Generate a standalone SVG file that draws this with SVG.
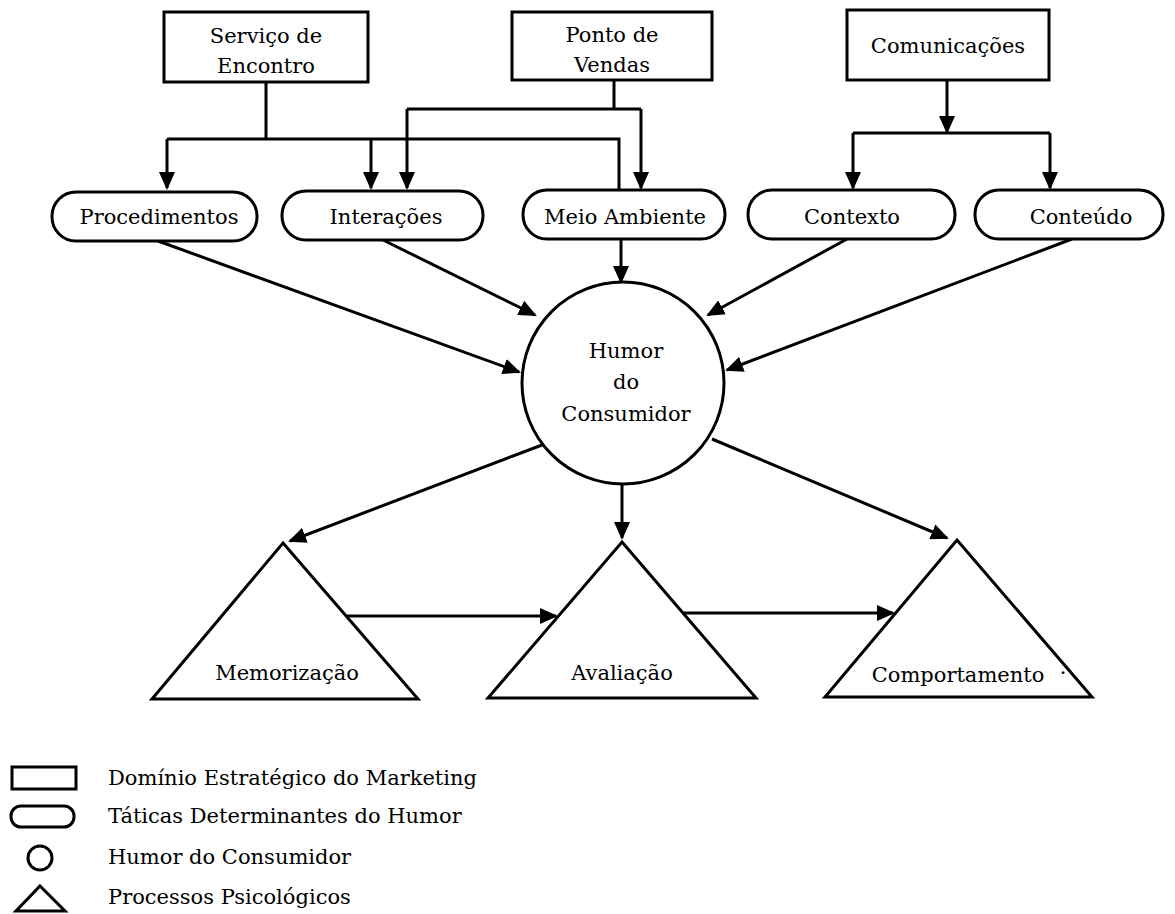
<svg xmlns="http://www.w3.org/2000/svg" width="1175" height="914" viewBox="0 0 1175 914">
<defs>
<style>
.n{fill:#fff;stroke:#000;stroke-width:3}
.t{font-family:"DejaVu Serif","Liberation Serif",serif;font-size:21px;fill:#000;text-anchor:middle}
.lt{font-family:"DejaVu Serif","Liberation Serif",serif;font-size:21px;fill:#000}
.c{fill:none;stroke:#000;stroke-width:3}
.a{marker-end:url(#ah)}
</style>
<marker id="ah" markerUnits="userSpaceOnUse" markerWidth="18" markerHeight="16" refX="16" refY="8" orient="auto">
<path d="M0,0 L18,8 L0,16 z" fill="#000"/>
</marker>
</defs>
<rect width="1175" height="914" fill="#fff"/>
<g id="connectors">
<path class="c" d="M266,82 V139 M167,139 H619 V190"/>
<path class="c a" d="M167,139 V188"/>
<path class="c a" d="M371,139 V188"/>
<path class="c" d="M614,80 V109 M407,109 H641"/>
<path class="c a" d="M407,109 V188"/>
<path class="c a" d="M641,109 V188"/>
<path class="c a" d="M947,80 V132"/>
<path class="c" d="M853,133 H1050"/>
<path class="c a" d="M853,133 V188"/>
<path class="c a" d="M1050,133 V188"/>
<path class="c a" d="M158,241 L519,372"/>
<path class="c a" d="M383,240 L535,315"/>
<path class="c a" d="M621,239 V282"/>
<path class="c a" d="M847,239 L708,315"/>
<path class="c a" d="M1072,239 L727,370"/>
<path class="c a" d="M542,445 L290,541"/>
<path class="c a" d="M622,484 V538"/>
<path class="c a" d="M712,439 L947,538"/>
<path class="c a" d="M347,616 H556"/>
<path class="c a" d="M683,613 H893"/>
</g>
<g id="servico">
<rect class="n" x="164" y="12" width="204" height="70"/>
<text class="t" x="266" y="43">Serviço de</text>
<text class="t" x="266" y="73">Encontro</text>
</g>
<g id="ponto">
<rect class="n" x="512" y="12" width="200" height="68"/>
<text class="t" x="612" y="42">Ponto de</text>
<text class="t" x="612" y="72">Vendas</text>
</g>
<g id="comunicacoes">
<rect class="n" x="847" y="10" width="202" height="70"/>
<text class="t" x="948" y="53">Comunicações</text>
</g>
<g id="procedimentos">
<rect class="n" x="52" y="192" width="205" height="49" rx="24"/>
<text class="t" x="159" y="224">Procedimentos</text>
</g>
<g id="interacoes">
<rect class="n" x="282" y="191" width="201" height="49" rx="24"/>
<text class="t" x="386" y="224">Interações</text>
</g>
<g id="meio">
<rect class="n" x="523" y="190" width="202" height="49" rx="24"/>
<text class="t" x="625" y="224">Meio Ambiente</text>
</g>
<g id="contexto">
<rect class="n" x="748" y="190" width="207" height="49" rx="24"/>
<text class="t" x="852" y="224">Contexto</text>
</g>
<g id="conteudo">
<rect class="n" x="975" y="190" width="188" height="49" rx="24"/>
<text class="t" x="1081" y="224">Conteúdo</text>
</g>
<g id="humor">
<circle class="n" cx="623" cy="383" r="101"/>
<text class="t" x="626" y="358">Humor</text>
<text class="t" x="626" y="389">do</text>
<text class="t" x="626" y="421">Consumidor</text>
</g>
<g id="memorizacao">
<polygon class="n" points="283,543 418,699 152,699"/>
<text class="t" x="287" y="680">Memorização</text>
</g>
<g id="avaliacao">
<polygon class="n" points="622,542 756,698 488,698"/>
<text class="t" x="622" y="680">Avaliação</text>
</g>
<g id="comportamento">
<polygon class="n" points="957,540 1092,697 825,697"/>
<text class="t" x="958" y="682">Comportamento</text>
<text class="t" x="1063" y="680">·</text>
</g>
<g id="legend">
<rect class="n" x="12" y="767" width="64" height="22"/>
<text class="lt" x="108" y="785">Domínio Estratégico do Marketing</text>
<rect class="n" x="11" y="806" width="63" height="21" rx="10"/>
<text class="lt" x="108" y="823">Táticas Determinantes do Humor</text>
<circle class="n" cx="40" cy="858" r="12"/>
<text class="lt" x="108" y="864">Humor do Consumidor</text>
<polygon class="n" points="40,886 65,911 16,911"/>
<text class="lt" x="108" y="904">Processos Psicológicos</text>
</g>
</svg>
